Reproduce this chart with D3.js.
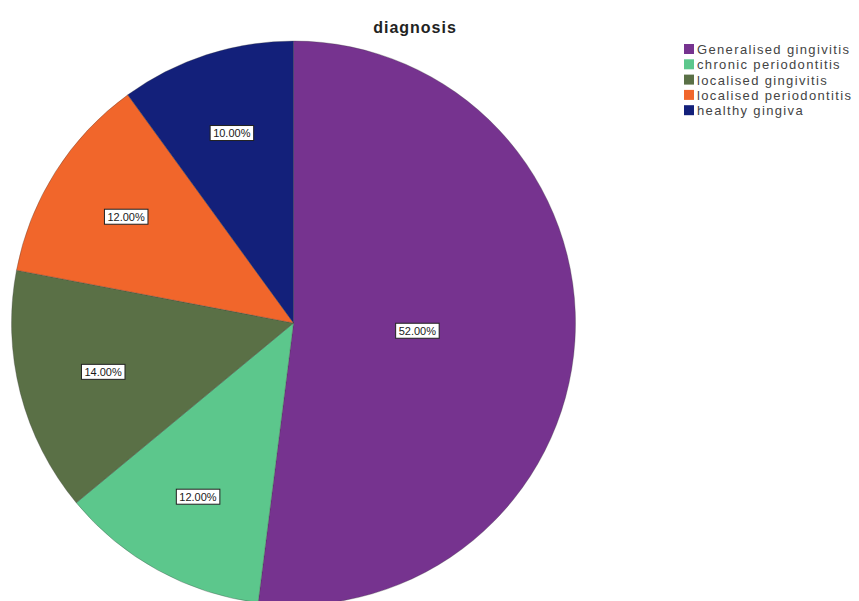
<!DOCTYPE html>
<html>
<head>
<meta charset="utf-8">
<script src="https://cdn.jsdelivr.net/npm/d3@7"></script>
<style>
  html, body { margin: 0; padding: 0; background: #ffffff; }
  svg { display: block; }
</style>
</head>
<body>
<svg id="chart" width="859" height="601"></svg>
<script>
// Diagnosis distribution
const categories = ["Generalised gingivitis", "chronic periodontitis", "localised gingivitis", "localised periodontitis", "healthy gingiva"];
const percentages = [52, 12, 14, 12, 10];
const sliceColors = ["#76338f", "#5cc78c", "#5a7046", "#f1662b", "#13207a"];
const chartTitle = "diagnosis";

const width = 859, height = 601;
const cx = 293.5, cy = 323, radius = 282;

const svg = d3.select("#chart");

const data = categories.map((c, i) => ({ name: c, value: percentages[i], color: sliceColors[i] }));

const pie = d3.pie().value(d => d.value).sort(null);
const arcs = pie(data);
const arc = d3.arc().innerRadius(0).outerRadius(radius);

const g = svg.append("g").attr("transform", `translate(${cx},${cy})`);

g.selectAll("path.slice")
  .data(arcs)
  .enter().append("path")
  .attr("class", "slice")
  .attr("d", arc)
  .attr("fill", d => d.data.color)
  .attr("stroke", "#3a3a3a")
  .attr("stroke-width", 0.6)
  .attr("stroke-opacity", 0.5);

// Labels sit near the area centroid of each sector
const fmt = d3.format(".2f");
function labelPos(d) {
  const a = d.endAngle - d.startAngle;
  const mid = (d.startAngle + d.endAngle) / 2;
  const dist = 1.08 * 4 * radius * Math.sin(a / 2) / (3 * a);
  return [dist * Math.sin(mid), -dist * Math.cos(mid)];
}

const labels = g.selectAll("g.lbl")
  .data(arcs)
  .enter().append("g")
  .attr("class", "lbl")
  .attr("transform", d => `translate(${labelPos(d)})`);

labels.append("text")
  .attr("text-anchor", "middle")
  .attr("dy", "0.36em")
  .attr("font-family", "Liberation Sans, Arial, sans-serif")
  .attr("font-size", 11)
  .attr("fill", "#1a1a1a")
  .text(d => fmt(d.data.value) + "%");

labels.each(function() {
  const grp = d3.select(this);
  const bb = grp.select("text").node().getBBox();
  grp.insert("rect", "text")
    .attr("x", bb.x - 3)
    .attr("y", bb.y - 1.5)
    .attr("width", bb.width + 6)
    .attr("height", bb.height + 3)
    .attr("fill", "#ffffff")
    .attr("stroke", "#222")
    .attr("stroke-width", 1);
});

// Title
svg.append("text")
  .attr("x", 415)
  .attr("y", 33)
  .attr("text-anchor", "middle")
  .attr("font-family", "Liberation Sans, Arial, sans-serif")
  .attr("font-weight", "bold")
  .attr("font-size", 16)
  .attr("letter-spacing", 1)
  .attr("fill", "#222")
  .text(chartTitle);

// Legend
const legend = svg.append("g").attr("transform", "translate(684,44)");
const rows = legend.selectAll("g.row")
  .data(data)
  .enter().append("g")
  .attr("class", "row")
  .attr("transform", (d, i) => `translate(0,${i * 15.3})`);

rows.append("rect")
  .attr("width", 10)
  .attr("height", 10)
  .attr("fill", d => d.color);

rows.append("text")
  .attr("x", 13)
  .attr("y", 10)
  .attr("font-family", "Liberation Sans, Arial, sans-serif")
  .attr("font-size", 13)
  .attr("letter-spacing", 1.35)
  .attr("fill", "#444")
  .text(d => d.name);
</script>
</body>
</html>
